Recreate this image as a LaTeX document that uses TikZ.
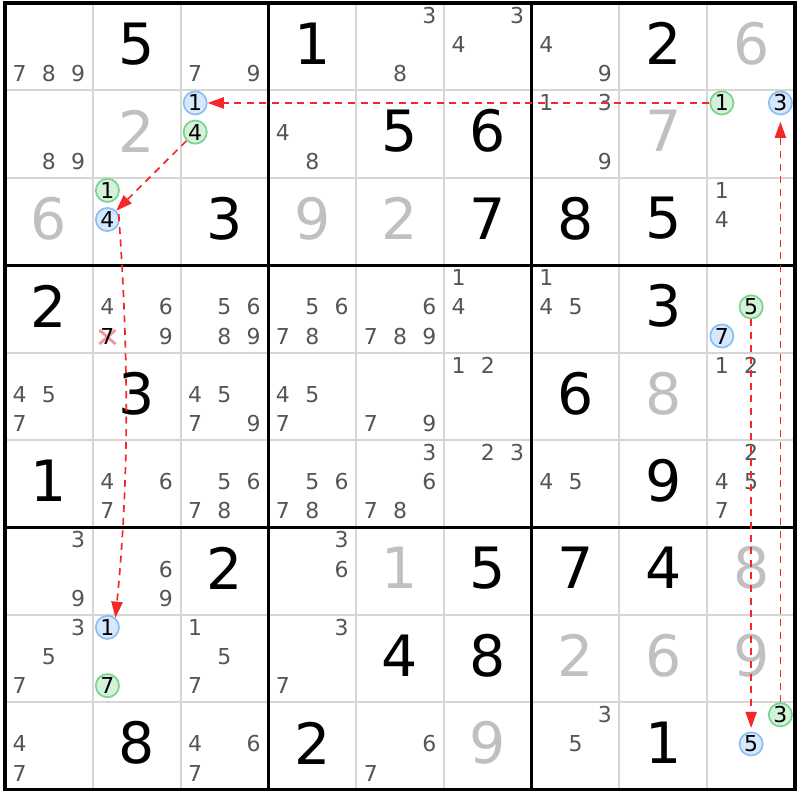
\documentclass[tikz,border=0pt]{standalone}
\usepackage{fontspec}
\setmainfont{DejaVu Sans}
\usetikzlibrary{arrows.meta}
\definecolor{candgray}{RGB}{85,85,85}
\definecolor{solvgray}{RGB}{192,192,192}
\definecolor{gridgray}{RGB}{214,214,214}
\definecolor{linkred}{RGB}{245,40,40}
\definecolor{bluefill}{RGB}{214,232,252}
\definecolor{blueline}{RGB}{140,190,245}
\definecolor{greenfill}{RGB}{212,242,218}
\definecolor{greenline}{RGB}{120,212,140}
\definecolor{xpink}{RGB}{242,150,162}
\begin{document}
\begin{tikzpicture}[x=0.025cm,y=-0.025cm,
  given/.style={font=\fontsize{40.5}{40.5}\selectfont, text=black, inner sep=0pt},
  solved/.style={given, text=solvgray},
  cand/.style={font=\fontsize{15.6}{15.6}\selectfont, text=candgray, inner sep=0pt},
  mark circle/.style={circle, inner sep=0pt, minimum size=0.58cm, line width=1.2pt,
     font=\fontsize{15.6}{15.6}\selectfont, text=black},
  bluec/.style={mark circle, draw=blueline, fill=bluefill},
  greenc/.style={mark circle, draw=greenline, fill=greenfill},
  thingrid/.style={draw=gridgray, line width=1.4pt},
  thickgrid/.style={draw=black, line width=2.2pt, line cap=rect},
  link/.style={draw=linkred, line width=1.2pt, dash pattern=on 5pt off 4pt,
     -{Triangle[length=11.5pt,width=8pt]}}
]
\useasboundingbox (0,0) rectangle (800,800);
\fill[white] (0,0) rectangle (800,800);
% thin grid
\foreach \i in {1,2,4,5,7,8}{
  \draw[thingrid] ({5+87.78*\i},3) -- ({5+87.78*\i},789.6);
  \draw[thingrid] (5,{3+87.4*\i}) -- (795,{3+87.4*\i});
}
% thick grid
\foreach \i in {0,3,6,9}{
  \draw[thickgrid] ({5+87.78*\i},3) -- ({5+87.78*\i},789.6);
  \draw[thickgrid] (5,{3+87.4*\i}) -- (795,{3+87.4*\i});
}
% givens
\foreach \r/\c/\d in {0/1/5,0/3/1,0/7/2,1/4/5,1/5/6,2/2/3,2/5/7,2/6/8,2/7/5,3/0/2,3/7/3,4/1/3,4/6/6,5/0/1,5/7/9,6/2/2,6/5/5,6/6/7,6/7/4,7/4/4,7/5/8,8/1/8,8/3/2,8/7/1}{
  \pgfmathsetmacro\px{5+87.78*(\c+0.5)}
  \pgfmathsetmacro\py{3+87.4*(\r+0.5)-3}
  \node[given] (v\r\c) at (\px,\py) {\d};
}
% solved (gray)
\foreach \r/\c/\d in {0/8/6,1/1/2,1/7/7,2/0/6,2/3/9,2/4/2,4/7/8,6/4/1,6/8/8,7/6/2,7/7/6,7/8/9,8/5/9}{
  \pgfmathsetmacro\px{5+87.78*(\c+0.5)}
  \pgfmathsetmacro\py{3+87.4*(\r+0.5)-3}
  \node[solved] (v\r\c) at (\px,\py) {\d};
}
% eliminated candidate 7 in r3c1
\pgfmathsetmacro\ex{5+87.78*1+29.26*0.5}
\pgfmathsetmacro\ey{3+87.4*3+29.133*2.5-2}
\draw[xpink, line width=2pt] (\ex-8,\ey-6) coordinate (xa) -- (\ex+8,\ey+8) coordinate (xb);
\draw[xpink, line width=2pt] (\ex+8,\ey-6) coordinate (xc) -- (\ex-8,\ey+8) coordinate (xd);
\node[cand, text=black] (k317) at (\ex,\ey) {7};
% candidates
\foreach \r/\c/\L in {0/0/{7,8,9},0/2/{7,9},0/4/{3,8},0/5/{3,4},0/6/{4,9},
  1/0/{8,9},1/3/{4,8},1/6/{1,3,9},2/8/{1,4},
  3/1/{4,6,9},3/2/{5,6,8,9},3/3/{5,6,7,8},3/4/{6,7,8,9},3/5/{1,4},3/6/{1,4,5},
  4/0/{4,5,7},4/2/{4,5,7,9},4/3/{4,5,7},4/4/{7,9},4/5/{1,2},4/8/{1,2},
  5/1/{4,6,7},5/2/{5,6,7,8},5/3/{5,6,7,8},5/4/{3,6,7,8},5/5/{2,3},5/6/{4,5},5/8/{2,4,5,7},
  6/0/{3,9},6/1/{6,9},6/3/{3,6},
  7/0/{3,5,7},7/2/{1,5,7},7/3/{3,7},
  8/0/{4,7},8/2/{4,6,7},8/4/{6,7},8/6/{3,5}}{
  \foreach \d in \L {
    \pgfmathsetmacro\px{5+87.78*\c+29.26*(mod(\d-1,3)+0.5)}
    \pgfmathsetmacro\py{3+87.4*\r+29.133*(floor((\d-1)/3)+0.5)-2}
    \node[cand] (k\r\c\d) at (\px,\py) {\d};
  }
}
% highlighted candidates
\foreach \r/\c/\d/\s/\nm in {1/2/1/bluec/b121,1/2/4/greenc/g124,1/8/1/greenc/g181,1/8/3/bluec/b183,
  2/1/1/greenc/g211,2/1/4/bluec/b214,3/8/5/greenc/g385,3/8/7/bluec/b387,
  7/1/1/bluec/b711,7/1/7/greenc/g717,8/8/3/greenc/g883,8/8/5/bluec/b885}{
  \pgfmathsetmacro\px{5+87.78*\c+29.26*(mod(\d-1,3)+0.5)}
  \pgfmathsetmacro\py{3+87.4*\r+29.133*(floor((\d-1)/3)+0.5)-2}
  \node[\s] (\nm) at (\px,\py) {\d};
}
% links
\draw[link] (g181) -- (b121);
\draw[link] (g124) -- (b214);
\draw[link] (b214.25) .. controls +(10,140) and +(14,-140) .. (b711.50);
\draw[link, shorten >=4.5pt] (g883) -- (b183);
\draw[link, shorten >=2.5pt] (g385) -- (b885);
\end{tikzpicture}
\end{document}
